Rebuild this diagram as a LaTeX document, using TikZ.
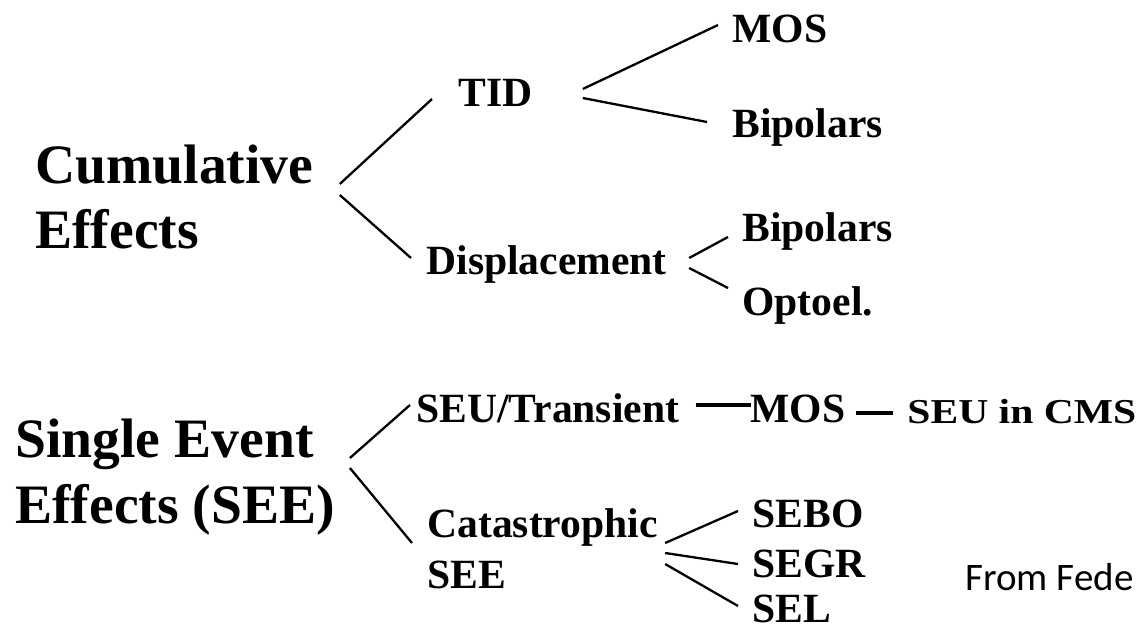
\documentclass[tikz,border=0pt]{standalone}
\usepackage{graphicx}
\usepackage{fontspec}
\setmainfont{Liberation Serif}
\newfontfamily\notefont{Carlito}
\tikzset{
  head/.style={anchor=base west,inner sep=0pt,font=\fontsize{27.8}{33}\selectfont\bfseries},
  item/.style={anchor=base west,inner sep=0pt,font=\fontsize{20.8}{25}\selectfont\bfseries},
  branch/.style={line width=1.15pt},
  bar/.style={line width=1.7pt}
}
\begin{document}
\begin{tikzpicture}[x=0.5pt,y=0.5pt]
\useasboundingbox (0,0) rectangle (1142,-627);
% cumulative effects
\node[head] (cum) at (35,-183) {Cumulative};
\node[head] (cumeff) at (35,-248) {Effects};
\node[item] (tid) at (458,-106) {TID};
\node[item] (disp) at (426,-274) {Displacement};
\node[item] (tidmos) at (732,-42) {MOS};
\node[item] (tidbip) at (732,-137) {Bipolars};
\node[item] (dispbip) at (742,-241) {Bipolars};
\node[item] (opto) at (742,-315) {Optoel.};
\draw[branch] ([shift={(26,-1)}]cum.base east) -- ([shift={(-26,7)}]tid.base west);
\draw[branch] ([shift={(26,-12)}]cum.base east) -- ([shift={(-15,16)}]disp.base west);
\draw[branch] ([shift={(50,17)}]tid.base east) -- ([shift={(-14,17)}]tidmos.base west);
\draw[branch] ([shift={(50,8)}]tid.base east) -- ([shift={(-25,15)}]tidbip.base west);
\draw[branch] ([shift={(22,16)}]disp.base east) -- ([shift={(-14,4)}]dispbip.base west);
\draw[branch] ([shift={(22,6)}]disp.base east) -- ([shift={(-14,27)}]opto.base west);
% single event effects
\node[head] (see) at (15,-457) {Single Event};
\node[head] (seeeff) at (15,-523) {Effects (SEE)};
\node[item] (seu) at (416,-422) {SEU/Transient};
\node[item] (seumos) at (750,-422) {MOS};
\node[item] (cms) at (907,-423) {\scalebox{1}[0.84]{SEU in CMS}};
\node[item] (cat) at (427,-537) {Catastrophic};
\node[item] (catsee) at (427,-588) {SEE};
\node[item] (sebo) at (752,-527) {SEBO};
\node[item] (segr) at (752,-577) {SEGR};
\node[item] (sel) at (752,-622) {SEL};
\draw[branch] ([shift={(36,-1)}]see.base east) -- ([shift={(-6,17)}]seu.base west);
\draw[branch] ([shift={(36,-11)}]see.base east) -- ([shift={(-15,-6)}]cat.base west);
\draw[bar] ([shift={(16,17)}]seu.base east) -- ([shift={(1,17)}]seumos.base west);
\draw[bar] ([shift={(10,9)}]seumos.base east) -- ([shift={(-14,10)}]cms.base west);
\draw[branch] ([shift={(7,-6)}]cat.base east) -- ([shift={(-14,16)}]sebo.base west);
\draw[branch] ([shift={(7,-16)}]cat.base east) -- ([shift={(-14,13)}]segr.base west);
\draw[branch] ([shift={(7,-27)}]cat.base east) -- ([shift={(-14,16)}]sel.base west);
\node[anchor=base west,inner sep=0pt,font=\notefont\fontsize{19.5}{23}\selectfont] (src) at (965,-590) {From Fede};
\end{tikzpicture}
\end{document}
